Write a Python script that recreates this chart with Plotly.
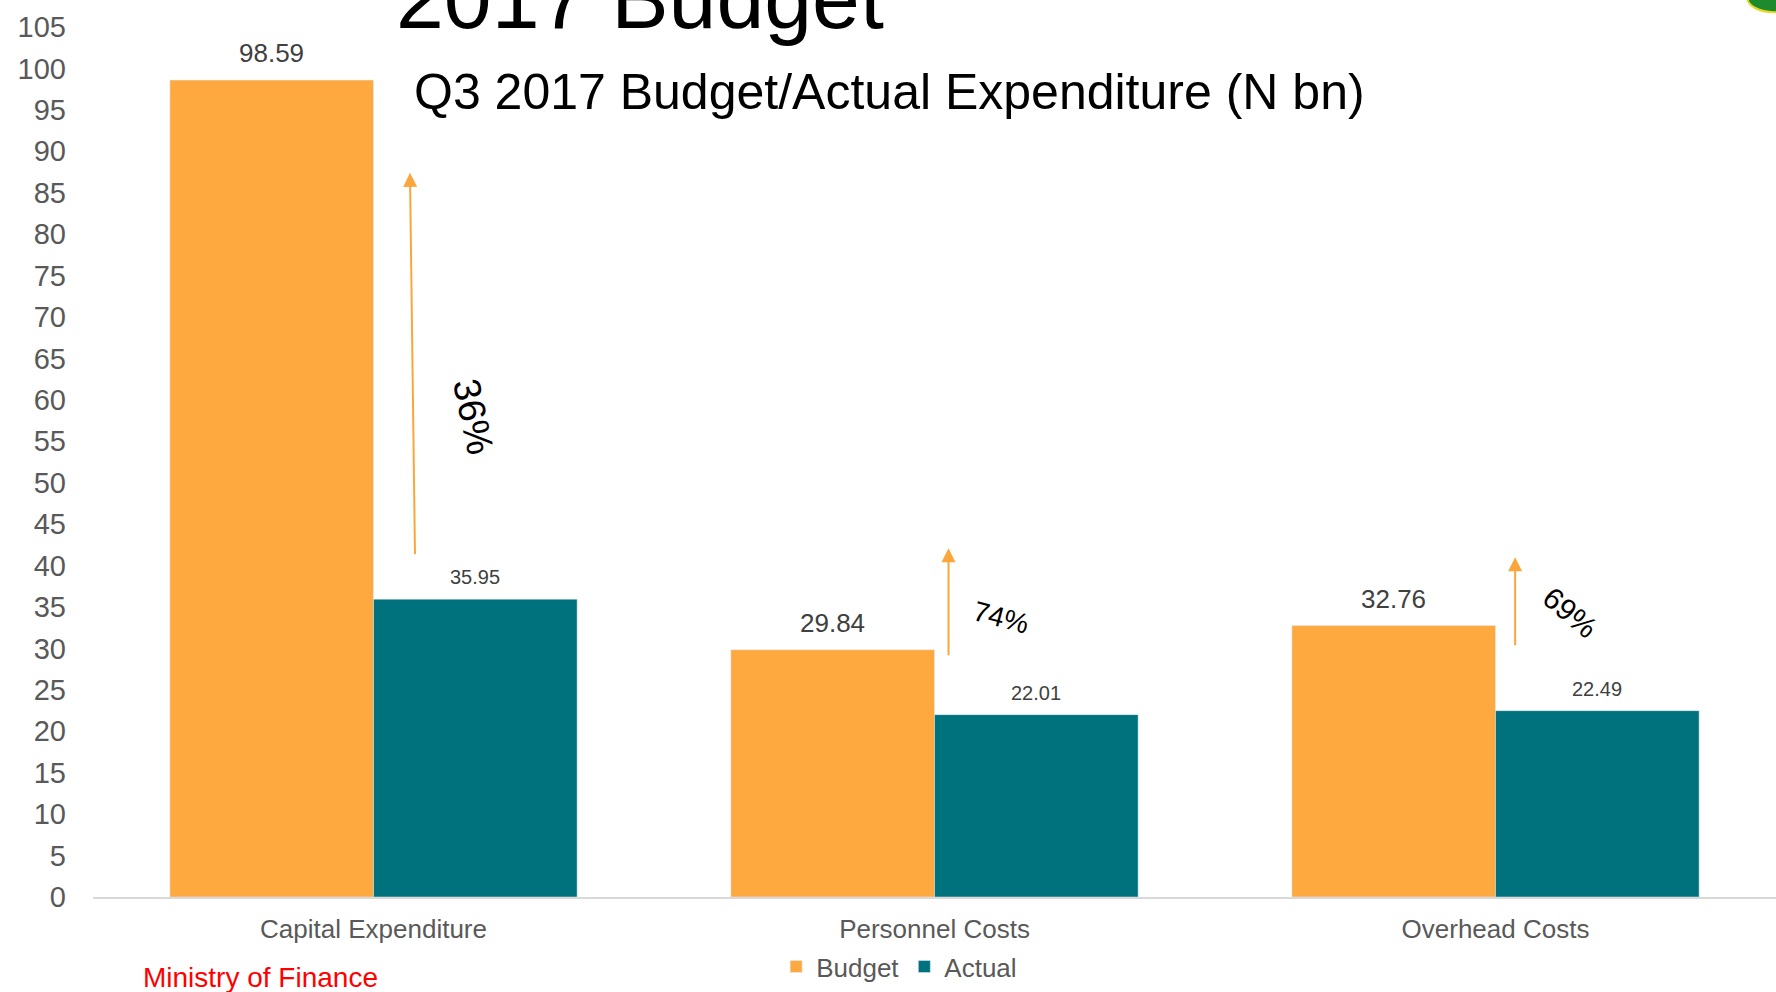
import plotly.graph_objects as go

# Q3 2017 budget vs actual expenditure, N billion
categories = ["Capital Expenditure", "Personnel Costs", "Overhead Costs"]
budget = [98.59, 29.84, 32.76]
actual = [35.95, 22.01, 22.49]
performance = ["36%", "74%", "69%"]

FONT = "Liberation Sans, Arial, sans-serif"
ORANGE = "#FDA940"
TEAL = "#00727D"
BARGAP = 0.274

W, H = 1776, 992
M = dict(l=93, r=0, t=27, b=95)

fig = go.Figure()
fig.add_trace(go.Bar(name="Budget", x=categories, y=budget, marker_color=ORANGE))
fig.add_trace(go.Bar(name="Actual", x=categories, y=actual, marker_color=TEAL))

half = (1 - BARGAP) / 4  # centre offset of each bar within its group

annotations = []
# value labels above each bar
for i, v in enumerate(budget):
    annotations.append(dict(x=i - half, y=v, xref="x", yref="y", text=f"{v:.2f}",
                            showarrow=False, yshift=27,
                            font=dict(family=FONT, size=26, color="#404040")))
for i, v in enumerate(actual):
    annotations.append(dict(x=i + half, y=v, xref="x", yref="y", text=f"{v:.2f}",
                            showarrow=False, yshift=22,
                            font=dict(family=FONT, size=20, color="#404040")))

# arrows pointing up from the actual bars, with the execution rate beside them
arrows = [
    dict(x=0.065, y=87.4, ax=0.074, ay=41.2),
    dict(x=1.025, y=42.1, ax=1.025, ay=29.0),
    dict(x=2.035, y=41.0, ax=2.035, ay=30.2),
]
for a in arrows:
    annotations.append(dict(x=a["x"], y=a["y"], ax=a["ax"], ay=a["ay"],
                            xref="x", yref="y", axref="x", ayref="y", text="",
                            showarrow=True, arrowhead=2, arrowsize=1.4,
                            arrowwidth=2, arrowcolor="#FBA63C", standoff=0))

pct_pos = [(0.177, 58.0, 78, 38), (1.118, 33.7, 15, 28), (2.133, 34.3, 40, 30)]
for (x, y, ang, sz), txt in zip(pct_pos, performance):
    annotations.append(dict(x=x, y=y, xref="x", yref="y", text=txt, showarrow=False,
                            textangle=ang, font=dict(family=FONT, size=sz, color="#000000")))

# headings
annotations.append(dict(x=0.325, y=0.976, xref="paper", yref="paper", text="2017 Budget",
                        showarrow=False, xanchor="center", yanchor="bottom",
                        font=dict(family=FONT, size=86, color="#000000")))
annotations.append(dict(x=0.473, y=0.925, xref="paper", yref="paper",
                        text="Q3 2017 Budget/Actual Expenditure (N bn)", showarrow=False,
                        xanchor="center", yanchor="middle",
                        font=dict(family=FONT, size=50, color="#000000")))
annotations.append(dict(x=(260 - M["l"]) / (W - M["l"]), y=-0.093, xref="paper", yref="paper",
                        text="Ministry of Finance", showarrow=False,
                        xanchor="center", yanchor="middle",
                        font=dict(family=FONT, size=28, color="#FF0000")))

fig.update_layout(
    width=W, height=H, margin=M,
    paper_bgcolor="white", plot_bgcolor="white",
    barmode="group", bargap=BARGAP, bargroupgap=0,
    font=dict(family=FONT, color="#595959"),
    annotations=annotations,
    showlegend=True,
    legend=dict(orientation="h", x=0.479, xanchor="center", y=-0.080, yanchor="middle",
                font=dict(family=FONT, size=26, color="#595959"),
                itemwidth=30, bgcolor="rgba(0,0,0,0)"),
    shapes=[
        # corner emblem, mostly off the page
        dict(type="circle", xref="paper", yref="paper", x0=0.983, x1=1.015, y0=1.017, y1=1.05,
             fillcolor="#1E8A2E", line=dict(color="#E6D61E", width=2)),
    ],
)
fig.update_xaxes(showline=True, linecolor="#D9D9D9", linewidth=2, showgrid=False,
                 ticks="", ticklabelstandoff=8,
                 tickfont=dict(family=FONT, size=26, color="#595959"))
fig.update_yaxes(range=[0, 105], dtick=5, showgrid=False, zeroline=False, showline=False,
                 ticks="", ticklabelstandoff=26,
                 tickfont=dict(family=FONT, size=29, color="#595959"))

fig.write_html("out.html")
